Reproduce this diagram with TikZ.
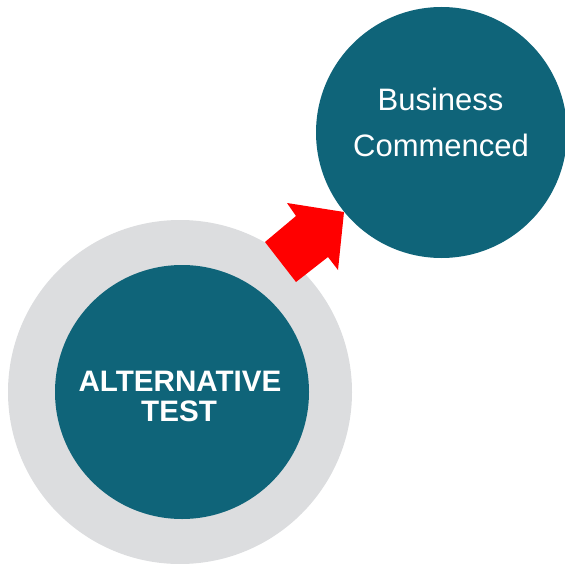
\documentclass[tikz,border=0pt]{standalone}
\usepackage{fontspec}
\setmainfont{Liberation Sans}
\definecolor{teal1}{HTML}{0F6479}
\definecolor{ring}{HTML}{DCDDDF}
\definecolor{arrowred}{HTML}{FF0000}
\begin{document}
\begin{tikzpicture}[x=1pt,y=-1pt,
  disc/.style={circle, inner sep=0pt, draw=none},
  bigtxt/.style={text=white, font=\fontsize{31}{46}\selectfont, anchor=base, inner sep=0pt},
  boldtxt/.style={text=white, font=\bfseries\fontsize{29.6}{30}\selectfont, anchor=base, inner sep=0pt}]
\useasboundingbox (0,0) rectangle (564,564);
\node[disc, fill=ring, minimum size=344pt] (outer) at (180,392) {};
\node[disc, fill=teal1, minimum size=254pt] (inner) at (182,392) {};
\node[disc, fill=teal1, minimum size=251pt] (goal) at (441.5,132.5) {};
\fill[arrowred] (265,242) -- (296,216) -- (287,203) -- (344,212) -- (338,270) -- (328,257) -- (296,282) -- cycle;
\node[boldtxt] (t1) at (180,391) {ALTERNATIVE};
\node[boldtxt] (t2) at (179,421) {TEST};
\node[bigtxt] (b1) at (440.5,111) {Business};
\node[bigtxt] (b2) at (441,157) {Commenced};
\end{tikzpicture}
\end{document}
